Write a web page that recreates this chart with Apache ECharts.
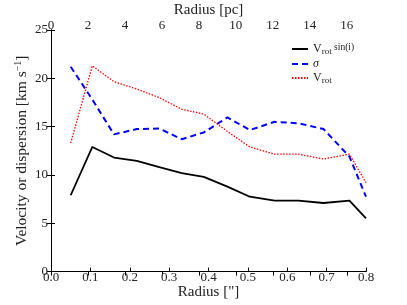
<!DOCTYPE html>
<html><head><meta charset="utf-8">
<script src="https://cdn.jsdelivr.net/npm/echarts@6/dist/echarts.min.js"></script>
<style>html,body{margin:0;padding:0;background:#fff}#c{width:407px;height:305px}</style>
</head><body><div id="c"></div>
<script>
var radius = [0.05, 0.105, 0.16, 0.218, 0.275, 0.332, 0.388, 0.448, 0.505, 0.568, 0.628, 0.692, 0.758, 0.8];
var vrotSini = [7.9, 12.9, 11.8, 11.45, 10.8, 10.2, 9.8, 8.8, 7.75, 7.35, 7.35, 7.1, 7.35, 5.5];
var sigma = [21.2, 17.8, 14.2, 14.75, 14.8, 13.7, 14.4, 15.95, 14.65, 15.5, 15.35, 14.75, 11.9, 7.75];
var vrot = [13.3, 21.3, 19.65, 18.9, 18.0, 16.8, 16.3, 14.5, 12.9, 12.15, 12.15, 11.65, 12.15, 9.2];
var xTicks = [0, 0.1, 0.2, 0.3, 0.4, 0.5, 0.6, 0.7, 0.8];
var yTicks = [0, 5, 10, 15, 20, 25];
var pcTicks = [0, 2, 4, 6, 8, 10, 12, 14, 16];
var pcMax = 17.04;

function pairs(xs, ys){ return xs.map(function(x,i){ return [x, ys[i]]; }); }
var F = 'Liberation Serif';
var TC = '#222';
var chart = echarts.init(document.getElementById('c'));
var tick = {show: true, inside: true, length: 4, lineStyle: {color: '#000'}};
var line = {show: true, lineStyle: {color: '#000', width: 1}};
chart.setOption({
  animation: false,
  textStyle: {fontFamily: F},
  grid: {left: 51, right: 41, top: 30, bottom: 33.4, containLabel: false, outerBoundsMode: 'none'},
  legend: {
    orient: 'vertical', left: 286, top: 37, itemWidth: 16, itemHeight: 10, itemGap: 2,
    itemStyle: {opacity: 0},
    data: ['vsin', 'sigma', 'vrot'],
    formatter: function(n){
      if (n === 'vsin') return '{v|V}{s|rot}{p| sin(i)}';
      if (n === 'sigma') return '{i|σ}';
      return '{v|V}{s|rot}';
    },
    textStyle: {
      fontFamily: F, color: TC,
      rich: {
        v: {fontFamily: F, fontSize: 12, color: TC},
        s: {fontFamily: F, fontSize: 9, color: TC, padding: [5, 0, 0, 0]},
        p: {fontFamily: F, fontSize: 9.5, color: TC, padding: [0, 0, 4, 0]},
        i: {fontFamily: F, fontSize: 12, fontStyle: 'italic', color: TC}
      }
    }
  },
  xAxis: [
    {
      type: 'value', position: 'bottom', min: 0, max: 0.8, interval: 0.1,
      axisLine: line, axisTick: tick, splitLine: {show: false},
      name: 'Radius ["]', nameLocation: 'middle', nameGap: 13, nameMoveOverlap: false,
      nameTextStyle: {fontFamily: F, fontSize: 15, color: TC},
      axisLabel: {color: TC, fontFamily: F, fontSize: 13, margin: -1,
        formatter: function(v){ return v.toFixed(1); }}
    },
    {
      type: 'value', position: 'top', min: 0, max: pcMax,
      axisLine: line, splitLine: {show: false},
      name: 'Radius [pc]', nameLocation: 'middle', nameGap: 12, nameMoveOverlap: false,
      nameTextStyle: {fontFamily: F, fontSize: 15, color: TC},
      axisLabel: {color: TC, fontFamily: F, fontSize: 13, margin: -2, customValues: pcTicks},
      axisTick: {show: true, inside: true, length: 4, lineStyle: {color: '#000'}, customValues: pcTicks}
    }
  ],
  yAxis: [
    {
      type: 'value', position: 'left', min: 0, max: 25, interval: 5,
      axisLine: line, axisTick: tick, splitLine: {show: false},
      name: 'Velocity or dispersion [km s{sup|−1}]', nameLocation: 'middle', nameGap: 21, nameMoveOverlap: false,
      nameTextStyle: {fontFamily: F, fontSize: 15.5, color: TC,
        rich: {sup: {fontFamily: F, fontSize: 10, color: TC, padding: [0, 0, 7, 0]}}},
      axisLabel: {color: TC, fontFamily: F, fontSize: 13, margin: 3}
    },
    {
      type: 'value', position: 'right', min: 0, max: 25, interval: 5,
      axisLine: line, axisTick: tick, splitLine: {show: false},
      axisLabel: {show: false}
    }
  ],
  series: [
    {name: 'vsin', type: 'line', data: pairs(radius, vrotSini), symbol: 'none',
      lineStyle: {color: '#000', width: 1.8, type: 'solid'}, itemStyle: {color: '#000'}},
    {name: 'sigma', type: 'line', data: pairs(radius, sigma), symbol: 'none',
      lineStyle: {color: '#0000ff', width: 2, type: [6, 4]}, itemStyle: {color: '#0000ff'}},
    {name: 'vrot', type: 'line', data: pairs(radius, vrot), symbol: 'none',
      lineStyle: {color: '#ff0000', width: 1.3, type: [1.5, 1.5]}, itemStyle: {color: '#ff0000'}}
  ]
});
</script></body></html>
